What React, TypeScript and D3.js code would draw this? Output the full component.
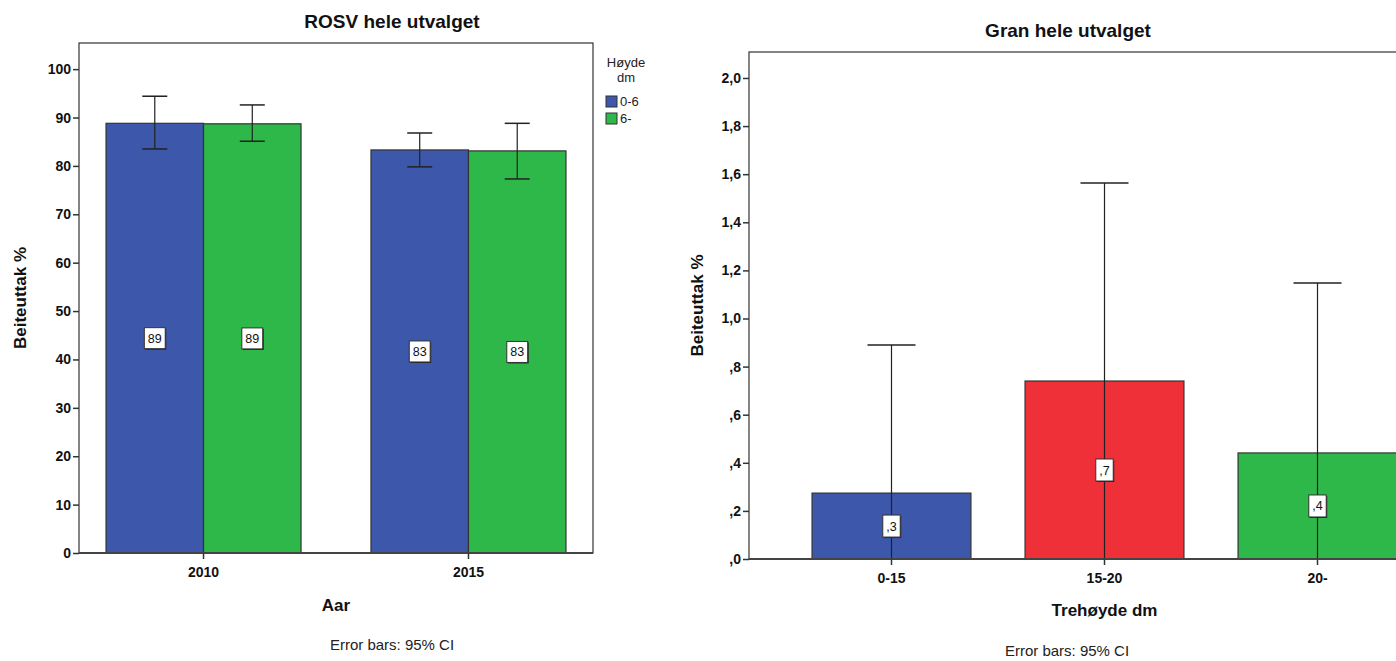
import React, { useRef, useEffect } from "react";
import * as d3 from "d3";

// ROSV chart data
const rosvYears = ["2010", "2015"];
const rosvGroups = ["0-6", "6-"];
const rosvMean06 = [88.8, 83.3];
const rosvLow06 = [83.5, 79.8];
const rosvHigh06 = [94.4, 86.8];
const rosvMean6 = [88.7, 83.1];
const rosvLow6 = [85.1, 77.3];
const rosvHigh6 = [92.6, 88.8];
const rosvTicks = [0, 10, 20, 30, 40, 50, 60, 70, 80, 90, 100];

// Gran chart data
const granCats = ["0-15", "15-20", "20-"];
const granMean = [0.274, 0.74, 0.441];
const granLow = [-0.34, -0.08, -0.27];
const granHigh = [0.89, 1.563, 1.148];
const granTicks = [0, 0.2, 0.4, 0.6, 0.8, 1.0, 1.2, 1.4, 1.6, 1.8, 2.0];

const BLUE = "#3d57ab";
const GREEN = "#2fb84a";
const RED = "#ef3039";
const FONT = '"Liberation Sans", Arial, sans-serif';

// SPSS style: 0.4 -> ",4"
const commaFmt = (v: number) => d3.format(".1f")(v).replace(".", ",").replace(/^0,/, ",");

function valueLabel(g: any, x: number, y: number, text: string, h: number) {
  const t = g.append("text")
    .attr("x", x).attr("y", y + 4.5)
    .attr("text-anchor", "middle")
    .attr("font-size", 12.5)
    .attr("fill", "#111")
    .text(text);
  const w = (t.node() as SVGTextElement).getComputedTextLength() + 7;
  g.insert("rect", () => t.node())
    .attr("x", x - w / 2 + 1).attr("y", y - h / 2 + 1)
    .attr("width", w).attr("height", h)
    .attr("fill", "#222");
  g.insert("rect", () => t.node())
    .attr("x", x - w / 2).attr("y", y - h / 2)
    .attr("width", w).attr("height", h)
    .attr("fill", "#fff").attr("stroke", "#333").attr("stroke-width", 1);
}

function errorBar(g: any, x: number, y1: number, y2: number, cap: number) {
  g.append("line").attr("x1", x).attr("x2", x).attr("y1", y1).attr("y2", y2)
    .attr("stroke", "#222").attr("stroke-width", 1.2);
  [y1, y2].forEach(y => {
    g.append("line").attr("x1", x - cap / 2).attr("x2", x + cap / 2).attr("y1", y).attr("y2", y)
      .attr("stroke", "#222").attr("stroke-width", 1.5);
  });
}

function styleAxis(ax: any) {
  ax.selectAll("text").attr("font-family", FONT).attr("font-size", 14).attr("font-weight", "bold").attr("fill", "#111");
  ax.selectAll("line").attr("stroke", "#333").attr("stroke-width", 1.5);
  ax.select(".domain").remove();
}

function drawRosv(svg: any) {
  const x0 = 79, x1 = 593, y0 = 43, y1 = 553;
  const g = svg.append("g");
  const y = d3.scaleLinear().domain([0, 105.4]).range([y1, y0]);
  const xb = d3.scaleBand().domain(rosvYears).range([x0, x1]).paddingInner(0.264).paddingOuter(0.102);
  const xs = d3.scaleBand().domain(rosvGroups).range([0, xb.bandwidth()]);

  g.append("text").attr("x", 392).attr("y", 28).attr("text-anchor", "middle")
    .attr("font-size", 19).attr("font-weight", "bold").attr("fill", "#111").text("ROSV hele utvalget");

  g.append("rect").attr("x", x0).attr("y", y0).attr("width", x1 - x0).attr("height", y1 - y0)
    .attr("fill", "#fff").attr("stroke", "#333").attr("stroke-width", 1.2);

  const series = [
    { key: rosvGroups[0], mean: rosvMean06, lo: rosvLow06, hi: rosvHigh06, color: BLUE },
    { key: rosvGroups[1], mean: rosvMean6, lo: rosvLow6, hi: rosvHigh6, color: GREEN },
  ];
  series.forEach(s => {
    rosvYears.forEach((yr, i) => {
      const bx = (xb(yr) as number) + (xs(s.key) as number);
      g.append("rect").attr("x", bx).attr("y", y(s.mean[i])).attr("width", xs.bandwidth())
        .attr("height", y1 - y(s.mean[i])).attr("fill", s.color).attr("stroke", "#333").attr("stroke-width", 1.2);
    });
  });
  series.forEach(s => {
    rosvYears.forEach((yr, i) => {
      const cx = (xb(yr) as number) + (xs(s.key) as number) + xs.bandwidth() / 2;
      errorBar(g, cx, y(s.hi[i]), y(s.lo[i]), 25);
    });
  });
  series.forEach(s => {
    rosvYears.forEach((yr, i) => {
      const cx = (xb(yr) as number) + (xs(s.key) as number) + xs.bandwidth() / 2;
      valueLabel(g, cx, y(s.mean[i] / 2), d3.format(".0f")(s.mean[i]), 21);
    });
  });

  g.append("line").attr("x1", x0).attr("x2", x1).attr("y1", y1).attr("y2", y1)
    .attr("stroke", "#444").attr("stroke-width", 2);

  const ay = g.append("g").attr("transform", `translate(${x0},0)`)
    .call(d3.axisLeft(y).tickValues(rosvTicks).tickSize(6).tickPadding(2).tickFormat(d3.format("d")));
  styleAxis(ay);
  const ax = g.append("g").attr("transform", `translate(0,${y1})`)
    .call(d3.axisBottom(xb).tickSize(6).tickPadding(8));
  styleAxis(ax);
  ax.selectAll(".tick").attr("transform", (d: string) => `translate(${(xb(d) as number) + xb.bandwidth() / 2},0)`);

  g.append("text").attr("x", (x0 + x1) / 2).attr("y", 611).attr("text-anchor", "middle")
    .attr("font-size", 17).attr("font-weight", "bold").attr("fill", "#111").text("Aar");
  g.append("text").attr("transform", `translate(26,${(y0 + y1) / 2}) rotate(-90)`).attr("text-anchor", "middle")
    .attr("font-size", 17).attr("font-weight", "bold").attr("fill", "#111").text("Beiteuttak %");
  g.append("text").attr("x", 392).attr("y", 650).attr("text-anchor", "middle")
    .attr("font-size", 15).attr("fill", "#222").text("Error bars: 95% CI");

  // legend
  g.append("text").attr("x", 626).attr("y", 67).attr("text-anchor", "middle")
    .attr("font-size", 13).attr("fill", "#222").text("Høyde");
  g.append("text").attr("x", 626).attr("y", 82).attr("text-anchor", "middle")
    .attr("font-size", 13).attr("fill", "#222").text("dm");
  series.forEach((s, i) => {
    g.append("rect").attr("x", 606).attr("y", 96 + i * 17).attr("width", 11).attr("height", 11)
      .attr("fill", s.color).attr("stroke", "#333").attr("stroke-width", 1);
    g.append("text").attr("x", 620).attr("y", 106 + i * 17).attr("font-size", 13).attr("fill", "#222").text(s.key);
  });
}

function drawGran(svg: any) {
  const x0 = 749, x1 = 1460, y0 = 52, y1 = 559;
  const g = svg.append("g");
  const y = d3.scaleLinear().domain([0, 2.108]).range([y1, y0]);
  const xb = d3.scaleBand().domain(granCats).range([x0, x1]).paddingInner(0.254).paddingOuter(0.296);
  const colors = [BLUE, RED, GREEN];

  g.append("text").attr("x", 1068).attr("y", 37).attr("text-anchor", "middle")
    .attr("font-size", 19).attr("font-weight", "bold").attr("fill", "#111").text("Gran hele utvalget");

  g.append("rect").attr("x", x0).attr("y", y0).attr("width", x1 - x0).attr("height", y1 - y0)
    .attr("fill", "#fff").attr("stroke", "#333").attr("stroke-width", 1.2);

  granCats.forEach((c, i) => {
    g.append("rect").attr("x", xb(c)).attr("y", y(granMean[i])).attr("width", xb.bandwidth())
      .attr("height", y1 - y(granMean[i])).attr("fill", colors[i]).attr("stroke", "#333").attr("stroke-width", 1.2);
  });
  granCats.forEach((c, i) => {
    const cx = (xb(c) as number) + xb.bandwidth() / 2;
    errorBar(g, cx, y(granHigh[i]), y(Math.max(0, granLow[i])), 48);
  });
  granCats.forEach((c, i) => {
    const cx = (xb(c) as number) + xb.bandwidth() / 2;
    valueLabel(g, cx, y(granMean[i] / 2), commaFmt(granMean[i]), 22);
  });

  g.append("line").attr("x1", x0).attr("x2", x1).attr("y1", y1).attr("y2", y1)
    .attr("stroke", "#444").attr("stroke-width", 2);

  const ay = g.append("g").attr("transform", `translate(${x0},0)`)
    .call(d3.axisLeft(y).tickValues(granTicks).tickSize(6).tickPadding(2).tickFormat(commaFmt));
  styleAxis(ay);
  const ax = g.append("g").attr("transform", `translate(0,${y1})`)
    .call(d3.axisBottom(xb).tickSize(6).tickPadding(8));
  styleAxis(ax);

  g.append("text").attr("x", (x0 + x1) / 2).attr("y", 616).attr("text-anchor", "middle")
    .attr("font-size", 17).attr("font-weight", "bold").attr("fill", "#111").text("Trehøyde dm");
  g.append("text").attr("transform", `translate(703,${(y0 + y1) / 2}) rotate(-90)`).attr("text-anchor", "middle")
    .attr("font-size", 17).attr("font-weight", "bold").attr("fill", "#111").text("Beiteuttak %");
  g.append("text").attr("x", 1067).attr("y", 656).attr("text-anchor", "middle")
    .attr("font-size", 15).attr("fill", "#222").text("Error bars: 95% CI");
}

function App() {
  const svgRef = useRef<SVGSVGElement>(null);

  useEffect(() => {
    const svg = d3.select(svgRef.current);
    svg.selectAll("*").remove();
    svg.attr("font-family", FONT);
    drawRosv(svg);
    drawGran(svg);
  }, []);

  return (
    <svg ref={svgRef} width={1396} height={661}
      style={{ position: "absolute", left: 0, top: 0, background: "#fff" }} />
  );
}

export default App;
